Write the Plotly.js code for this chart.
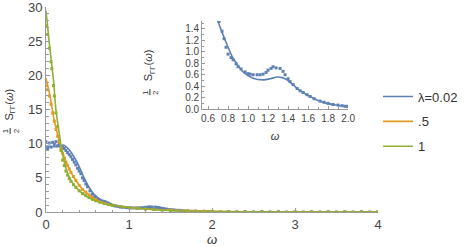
<!DOCTYPE html>
<html>
<head>
<meta charset="utf-8">
<script src="https://cdn.plot.ly/plotly-3.0.1.min.js"></script>
<style>html,body{margin:0;padding:0;background:#fff}#chart{width:469px;height:247px}</style>
</head>
<body>
<div id="chart"></div>
<script>
// ---- data ----
const seriesNames = ["\u03bb=0.02", ".5", "1"];

// lambda = 0.02 (blue): theory line
const blueLineX = [0, 0.05, 0.11, 0.16, 0.21, 0.26, 0.31, 0.35, 0.39, 0.43, 0.47, 0.52, 0.57, 0.62, 0.67, 0.70, 0.77, 0.85, 0.95, 1.05, 1.15, 1.22, 1.29, 1.34, 1.39, 1.44, 1.49, 1.55, 1.62, 1.70, 1.79, 1.88, 1.97, 2.2, 2.5, 3.0, 3.5, 4.0];
const blueLineY = [9.66, 9.6, 9.56, 9.65, 9.8, 9.35, 8.6, 7.8, 6.9, 5.8, 4.7, 3.6, 2.7, 2.15, 1.7, 1.53, 1.21, 0.89, 0.65, 0.54, 0.51, 0.53, 0.56, 0.55, 0.51, 0.44, 0.36, 0.29, 0.22, 0.15, 0.10, 0.07, 0.04, 0.02, 0.01, 0.005, 0, 0];
// lambda = 0.02 (blue): data points
const bluePtsX = [0, 0.02, 0.04, 0.06, 0.08, 0.10, 0.12, 0.14, 0.16, 0.18, 0.20, 0.22, 0.24, 0.26, 0.28, 0.30, 0.32, 0.34, 0.36, 0.38, 0.40, 0.42, 0.44, 0.46, 0.48, 0.50, 0.53, 0.56, 0.59, 0.62, 0.65, 0.68, 0.71, 0.74, 0.76, 0.78, 0.80, 0.83, 0.85, 0.88, 0.90, 0.93, 0.97, 1.00, 1.02, 1.05, 1.09, 1.12, 1.15, 1.18, 1.20, 1.23, 1.25, 1.28, 1.32, 1.35, 1.37, 1.40, 1.42, 1.45, 1.49, 1.52, 1.55, 1.59, 1.62, 1.66, 1.72, 1.76, 1.80, 1.85, 1.90, 1.94, 1.97, 2.0, 2.1, 2.2, 2.3, 2.4, 2.5, 2.6, 2.7, 2.8, 2.9, 3.0, 3.1, 3.2, 3.3, 3.4, 3.5, 3.6, 3.7, 3.8, 3.9, 4.0];
const bluePtsY = [10.3, 9.3, 10.1, 9.5, 10.2, 9.9, 10.3, 9.7, 10.0, 9.6, 9.5, 9.3, 9.0, 8.7, 8.4, 8.1, 7.7, 7.3, 6.9, 6.4, 6.0, 5.6, 5.0, 4.6, 4.1, 3.7, 3.1, 2.6, 2.2, 1.95, 1.75, 1.6, 1.53, 1.36, 1.23, 1.08, 0.96, 0.90, 0.86, 0.79, 0.74, 0.70, 0.65, 0.62, 0.61, 0.60, 0.60, 0.60, 0.61, 0.64, 0.68, 0.71, 0.74, 0.72, 0.71, 0.66, 0.60, 0.53, 0.48, 0.43, 0.36, 0.32, 0.29, 0.25, 0.22, 0.18, 0.14, 0.12, 0.10, 0.08, 0.07, 0.06, 0.05, 0.05, 0.03, 0.02, 0.02, 0.01, 0.01, 0.01, 0.01, 0, 0, 0, 0, 0, 0, 0, 0, 0, 0, 0, 0, 0];

// lambda = 0.5 (orange)
const orangeLineX = [0, 0.05, 0.09, 0.13, 0.18, 0.21, 0.25, 0.29, 0.33, 0.39, 0.45, 0.53, 0.61, 0.71, 0.81, 0.91, 1.0, 1.15, 1.3, 1.5, 1.75, 2.0, 2.5, 3.0, 3.5, 4.0];
const orangeLineY = [19.6, 16.9, 14.0, 11.8, 9.6, 8.4, 7.1, 6.1, 5.2, 4.1, 3.2, 2.4, 1.76, 1.3, 1.0, 0.8, 0.65, 0.5, 0.38, 0.28, 0.17, 0.1, 0.04, 0.02, 0.01, 0];
const orangePtsX = [0, 0.02, 0.04, 0.06, 0.08, 0.10, 0.12, 0.14, 0.16, 0.18, 0.20, 0.22, 0.24, 0.26, 0.28, 0.30, 0.33, 0.36, 0.40, 0.44, 0.48, 0.52, 0.56, 0.60, 0.65, 0.70, 0.75, 0.80, 0.90, 1.0, 1.1, 1.2, 1.3, 1.4, 1.5, 1.6, 1.7, 1.8, 1.9, 2.0, 2.2, 2.4, 2.6, 2.8, 3.0, 3.2, 3.4, 3.6, 3.8, 4.0];
const orangePtsY = [18.5, 17.9, 17.0, 15.8, 14.5, 13.3, 12.1, 11.1, 10.2, 9.4, 8.6, 7.9, 7.3, 6.8, 6.3, 5.8, 5.2, 4.6, 3.9, 3.3, 2.9, 2.5, 2.1, 1.8, 1.5, 1.3, 1.15, 1.0, 0.8, 0.65, 0.55, 0.47, 0.4, 0.34, 0.28, 0.23, 0.19, 0.15, 0.12, 0.1, 0.06, 0.04, 0.03, 0.02, 0.01, 0.01, 0, 0, 0, 0];

// lambda = 1 (green)
const greenLineX = [0, 0.04, 0.09, 0.12, 0.15, 0.18, 0.21, 0.25, 0.31, 0.37, 0.45, 0.53, 0.63, 0.73, 0.9, 1.09, 1.3, 1.5, 1.75, 2.0, 2.5, 3.0, 3.5, 4.0];
const greenLineY = [29.5, 24.7, 19.3, 14.9, 12.3, 9.8, 7.9, 6.0, 4.4, 3.5, 2.6, 2.0, 1.5, 1.17, 0.8, 0.54, 0.35, 0.22, 0.12, 0.07, 0.02, 0.01, 0, 0];
const greenPtsX = [0, 0.02, 0.04, 0.06, 0.07, 0.09, 0.10, 0.12, 0.14, 0.16, 0.18, 0.20, 0.22, 0.24, 0.26, 0.28, 0.30, 0.33, 0.36, 0.40, 0.44, 0.48, 0.52, 0.56, 0.60, 0.65, 0.70, 0.75, 0.80, 0.90, 1.0, 1.1, 1.2, 1.3, 1.4, 1.5, 1.6, 1.7, 1.8, 1.9, 2.0, 2.2, 2.4, 2.6, 2.8, 3.0, 3.2, 3.4, 3.6, 3.8, 4.0];
const greenPtsY = [27.3, 26.0, 24.0, 22.0, 21.0, 18.5, 17.0, 14.5, 12.5, 10.5, 9.0, 7.6, 6.8, 6.0, 5.4, 4.9, 4.5, 4.0, 3.6, 3.1, 2.7, 2.4, 2.1, 1.85, 1.65, 1.45, 1.25, 1.1, 0.95, 0.78, 0.63, 0.53, 0.44, 0.36, 0.29, 0.22, 0.17, 0.13, 0.1, 0.08, 0.06, 0.03, 0.02, 0.01, 0.01, 0, 0, 0, 0, 0, 0];

const mainXTicks = [0, 1, 2, 3, 4];
const mainYTicks = [0, 5, 10, 15, 20, 25, 30];
const insetXTicks = [0.6, 0.8, 1.0, 1.2, 1.4, 1.6, 1.8, 2.0];
const insetYTicks = [0.0, 0.2, 0.4, 0.6, 0.8, 1.0, 1.2, 1.4];

// ---- styling ----
const cBlue = "#5E81B5", cOrange = "#E19C24", cGreen = "#8FB032";
const FONT = "Liberation Sans, Arial, sans-serif";

function lineTrace(x, y, c, name, ax) {
  return {x: x, y: y, type: "scatter", mode: "lines", name: name,
    line: {color: c, width: 1.6, shape: "spline", smoothing: 0.6},
    xaxis: ax ? "x2" : "x", yaxis: ax ? "y2" : "y", showlegend: !ax && !!name, hoverinfo: "skip"};
}
function ptsTrace(x, y, c, ax) {
  return {x: x, y: y, type: "scatter", mode: "markers",
    marker: {color: c, size: 3, symbol: "square"}, cliponaxis: true,
    xaxis: ax ? "x2" : "x", yaxis: ax ? "y2" : "y", showlegend: false, hoverinfo: "skip"};
}

const data = [
  ptsTrace(bluePtsX, bluePtsY, cBlue),
  ptsTrace(orangePtsX, orangePtsY, cOrange),
  ptsTrace(greenPtsX, greenPtsY, cGreen),
  lineTrace(blueLineX, blueLineY, cBlue, seriesNames[0]),
  lineTrace(orangeLineX, orangeLineY, cOrange, seriesNames[1]),
  lineTrace(greenLineX, greenLineY, cGreen, seriesNames[2]),
  ptsTrace(bluePtsX, bluePtsY, cBlue, true),
  lineTrace(blueLineX, blueLineY, cBlue, "", true)
];
data.forEach((t, i) => { if (t.showlegend) { t.legendgroup = "g" + i; } });

const axCommon = {
  showgrid: false, zeroline: false, showline: true, linecolor: "#9a9a9a", linewidth: 1,
  ticks: "inside", tickcolor: "#9a9a9a", ticklen: 4, tickwidth: 1, ticklabeloverflow: "allow",
  tickfont: {family: FONT, size: 13, color: "#444"}
};

const layout = {
  width: 469, height: 247,
  margin: {l: 46, r: 91, t: 7, b: 35, autoexpand: false},
  paper_bgcolor: "#fff", plot_bgcolor: "rgba(0,0,0,0)",
  font: {family: FONT, color: "#444"},
  showlegend: true,
  legend: {xref: "container", yref: "container", x: 0.806, y: 0.67, xanchor: "left", yanchor: "top",
    font: {family: FONT, size: 13, color: "#333"}, tracegroupgap: 5, bgcolor: "rgba(0,0,0,0)"},
  xaxis: Object.assign({}, axCommon, {range: [0, 4], tickvals: mainXTicks, ticktext: mainXTicks.map(String),
    minor: {dtick: 0.2, ticks: "inside", ticklen: 2.5, tickcolor: "#9a9a9a", showgrid: false},
    title: {text: "<i>\u03c9</i>", font: {family: FONT, size: 13, color: "#333"}, standoff: 8}}),
  yaxis: Object.assign({}, axCommon, {range: [0, 30.02], tickvals: mainYTicks, ticktext: mainYTicks.map(String),
    minor: {dtick: 1, ticks: "inside", ticklen: 2.5, tickcolor: "#9a9a9a", showgrid: false}}),
  xaxis2: Object.assign({}, axCommon, {domain: [0.470, 0.910], anchor: "y2", range: [0.54, 2.0],
    tickvals: insetXTicks, ticktext: insetXTicks.map(v => v.toFixed(1)), ticklen: 3,
    tickfont: {family: FONT, size: 10, color: "#444"},
    minor: {dtick: 0.1, ticks: "inside", ticklen: 2, tickcolor: "#9a9a9a", showgrid: false},
    title: {text: "<i>\u03c9</i>", font: {family: FONT, size: 11, color: "#333"}, standoff: 9}}),
  yaxis2: Object.assign({}, axCommon, {domain: [0.502, 0.932], anchor: "x2", range: [0, 1.54],
    tickvals: insetYTicks, ticktext: insetYTicks.map(v => v.toFixed(1)), ticklen: 3,
    tickfont: {family: FONT, size: 10, color: "#444"},
    minor: {dtick: 0.1, ticks: "inside", ticklen: 2, tickcolor: "#9a9a9a", showgrid: false}}),
  annotations: [
    {xref: "paper", yref: "paper", x: -0.108, y: 0.525, xanchor: "center", yanchor: "middle",
      text: "S<sub>\u0393\u0393</sub>(<i>\u03c9</i>)", textangle: -90,
      showarrow: false, font: {family: FONT, size: 11, color: "#333"}},
    {xref: "paper", yref: "paper", x: -0.108, y: 0.395, xanchor: "center", yanchor: "middle",
      text: "1<br>2", textangle: -90,
      showarrow: false, font: {family: FONT, size: 8, color: "#333"}},
    {xref: "paper", yref: "paper", x: 0.313, y: 0.715, xanchor: "center", yanchor: "middle",
      text: "S<sub>\u0393\u0393</sub>(<i>\u03c9</i>)", textangle: -90,
      showarrow: false, font: {family: FONT, size: 11, color: "#333"}},
    {xref: "paper", yref: "paper", x: 0.313, y: 0.585, xanchor: "center", yanchor: "middle",
      text: "1<br>2", textangle: -90,
      showarrow: false, font: {family: FONT, size: 8, color: "#333"}}
  ],
  shapes: [
    {type: "line", xref: "paper", yref: "paper", x0: -0.108, x1: -0.108, y0: 0.38, y1: 0.41, line: {color: "#333", width: 1}},
    {type: "line", xref: "paper", yref: "paper", x0: 0.313, x1: 0.313, y0: 0.57, y1: 0.60, line: {color: "#333", width: 1}}
  ]
};

Plotly.newPlot("chart", data, layout, {staticPlot: true, displayModeBar: false});
</script>
</body>
</html>
